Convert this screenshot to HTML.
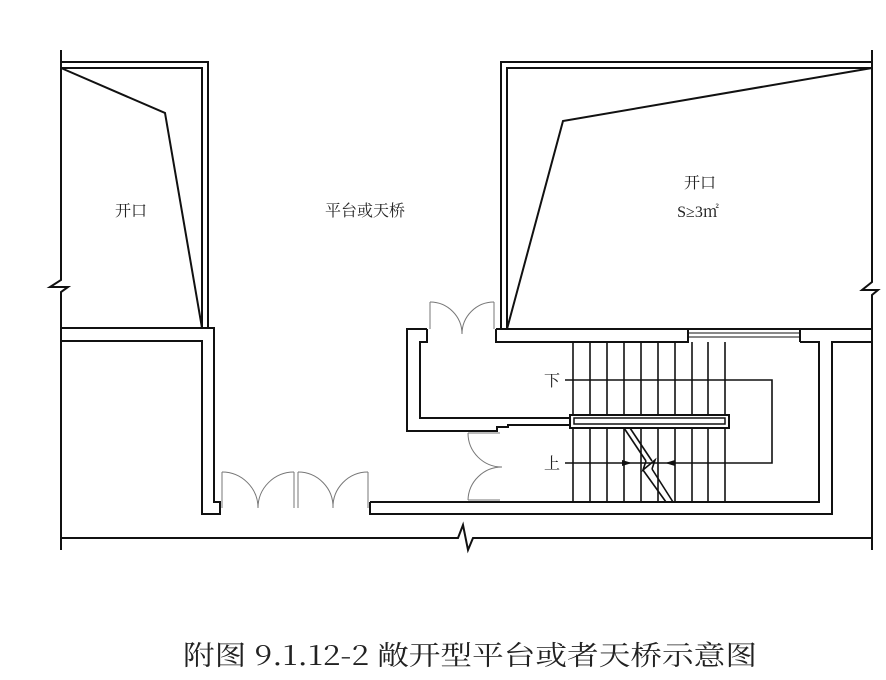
<!DOCTYPE html>
<html><head><meta charset="utf-8"><style>
body{margin:0;background:#fff;width:886px;height:680px;overflow:hidden}
svg{display:block}
text{font-family:"Liberation Serif","Noto Serif CJK SC",serif;fill:#222}
</style></head><body>
<svg width="886" height="680" viewBox="0 0 886 680">
<g fill="none" stroke="#111" stroke-width="2">
<polyline points="61,50 61,280 50,287 68,287 61,292 61,550"/>
<polyline points="872,50 872,282 862,290 878,290 872,295 872,550"/>
<polyline points="61,538 458,538 463,525 468,550 473,538 872,538"/>
<polyline points="61,62 208,62 208,328"/>
<polyline points="61,68 202,68 202,328"/>
<polyline points="61,68 165,113 202,328"/>
<polyline points="61,328 214,328 214,502 220,502 220,514 202,514 202,341 61,341"/>
<polyline points="370,502 819,502 819,342 800,342"/>
<polyline points="370,502 370,514 832,514 832,342 872,342"/>
<polyline points="501,329 501,62 872,62"/>
<polyline points="507,329 507,68 872,68"/>
<polyline points="872,68 563,121 507,329"/>
<polyline points="496,329 872,329"/>
<polyline points="496,329 496,342 688,342 688,329"/>
<line x1="800" y1="329" x2="800" y2="342"/>
<polyline points="427,329 407,329 407,431 497,431 497,427 508,427 508,425 570,425"/>
<polyline points="427,329 427,342 420,342 420,418 570,418"/>
<rect x="570" y="415" width="159" height="13"/>
<rect x="574" y="418" width="151" height="6" stroke-width="1.5"/>
</g>
<g stroke="#111" stroke-width="1">
<line x1="688" y1="333" x2="800" y2="333"/>
<line x1="688" y1="337" x2="800" y2="337"/>
</g>
<g stroke="#111" stroke-width="1.6">
<line x1="573" y1="342" x2="573" y2="415"/><line x1="590" y1="342" x2="590" y2="415"/><line x1="607" y1="342" x2="607" y2="415"/><line x1="624" y1="342" x2="624" y2="415"/><line x1="641" y1="342" x2="641" y2="415"/><line x1="658" y1="342" x2="658" y2="415"/><line x1="675" y1="342" x2="675" y2="415"/><line x1="692" y1="342" x2="692" y2="415"/><line x1="708" y1="342" x2="708" y2="415"/><line x1="725" y1="342" x2="725" y2="415"/>
<line x1="573" y1="428" x2="573" y2="502"/><line x1="590" y1="428" x2="590" y2="502"/><line x1="607" y1="428" x2="607" y2="502"/><line x1="624" y1="428" x2="624" y2="502"/><line x1="641" y1="428" x2="641" y2="502"/><line x1="658" y1="428" x2="658" y2="502"/><line x1="675" y1="428" x2="675" y2="502"/><line x1="692" y1="428" x2="692" y2="502"/><line x1="708" y1="428" x2="708" y2="502"/><line x1="725" y1="428" x2="725" y2="502"/>
</g>
<polyline points="565,380 772,380 772,463 565,463" fill="none" stroke="#111" stroke-width="1.6"/>
<polygon points="632,463 622,460 622,466" fill="#111"/>
<polygon points="665,463 675,460 675,466" fill="#111"/>
<g fill="none" stroke="#111" stroke-width="1.6">
<polyline points="624,428 646,461"/><polyline points="630,428 652,461"/>
<polyline points="646,461 643,470 655,460 652,469"/>
<polyline points="643,470 666,502"/><polyline points="652,469 673,502"/>
</g>
<g fill="none" stroke="#777" stroke-width="1">
<line x1="222" y1="472" x2="222" y2="508"/><line x1="294" y1="472" x2="294" y2="508"/>
<line x1="298" y1="472" x2="298" y2="508"/><line x1="368" y1="472" x2="368" y2="508"/>
<path d="M222,472 A36,36 0 0 1 258,508 A36,36 0 0 1 294,472"/>
<path d="M298,472 A35,35 0 0 1 333,508 A35,35 0 0 1 368,472"/>
<line x1="430" y1="302" x2="430" y2="329"/><line x1="494" y1="302" x2="494" y2="329"/>
<path d="M430,302 A32,32 0 0 1 462,334 A32,32 0 0 1 494,302"/>
<line x1="468" y1="433" x2="500" y2="433"/><line x1="468" y1="500" x2="500" y2="500"/>
<path d="M468,433 A34,34 0 0 0 502,467 A34,34 0 0 0 468,500"/>
</g>
<g font-size="16">
<text x="131" y="216" text-anchor="middle">开口</text>
<text x="365" y="216" text-anchor="middle">平台或天桥</text>
<text x="700" y="188" text-anchor="middle">开口</text>
<text x="698" y="217" text-anchor="middle">S≥3㎡</text>
<text x="544" y="386" fill="#555">下</text>
<text x="544" y="469" fill="#555">上</text>
</g>
<text x="183" y="665" font-size="27" textLength="574" lengthAdjust="spacingAndGlyphs" style="font-family:'Noto Serif CJK SC',serif">附图 9.1.12-2 敞开型平台或者天桥示意图</text>
</svg>
</body></html>
